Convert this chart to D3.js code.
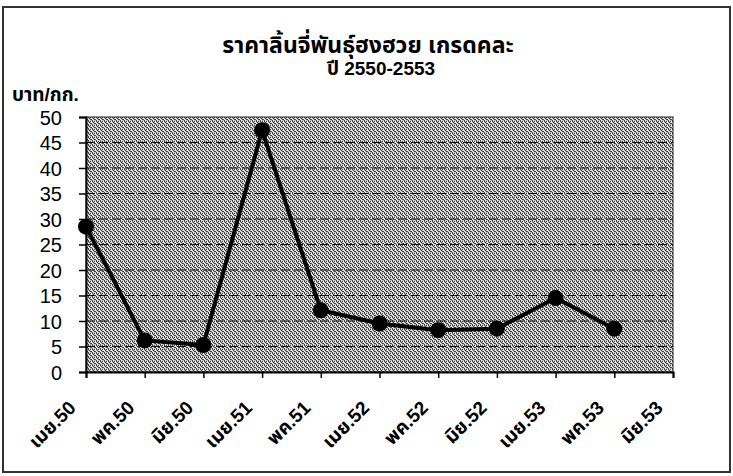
<!DOCTYPE html>
<html>
<head>
<meta charset="utf-8">
<script src="https://cdn.jsdelivr.net/npm/d3@7/dist/d3.min.js"></script>
<style>
  html, body { margin: 0; padding: 0; background: #fff; }
  svg { display: block; }
  text { font-family: "Liberation Sans", Arial, "Noto Sans Thai", "Noto Sans", sans-serif; }
</style>
</head>
<body>
<svg id="chart" width="733" height="476"></svg>
<script>
const titleLines = ["ราคาลิ้นจี่พันธุ์ฮงฮวย เกรดคละ", "ปี 2550-2553"];
const yAxisTitle = "บาท/กก.";
const categories = ["เมย.50", "พค.50", "มิย.50", "เมย.51", "พค.51", "เมย.52", "พค.52", "มิย.52", "เมย.53", "พค.53", "มิย.53"];
const prices = [28.5, 6.2, 5.3, 47.4, 12.1, 9.5, 8.2, 8.5, 14.5, 8.5, null];
const yTicks = [0, 5, 10, 15, 20, 25, 30, 35, 40, 45, 50];

const svg = d3.select("#chart");
const plot = { left: 86, right: 673, top: 117, bottom: 372 };

// outer frame
svg.append("rect").attr("x", 3).attr("y", 7).attr("width", 727).attr("height", 465)
  .attr("fill", "#fff").attr("stroke", "#333").attr("stroke-width", 2);

// stipple pattern
const defs = svg.append("defs");
const pat = defs.append("pattern").attr("id", "stip").attr("patternUnits", "userSpaceOnUse")
  .attr("width", 4).attr("height", 4);
pat.append("rect").attr("width", 4).attr("height", 4).attr("fill", "#bdbdbd");
[[0,0],[2,1],[1,2],[3,3],[2,3],[0,1]].forEach(([px,py]) =>
  pat.append("rect").attr("x", px).attr("y", py).attr("width", 1).attr("height", 1).attr("fill", "#444"));
[[1,0],[3,1],[0,3],[3,2]].forEach(([px,py]) =>
  pat.append("rect").attr("x", px).attr("y", py).attr("width", 1).attr("height", 1).attr("fill", "#f4f4f4"));

const x = d3.scalePoint().domain(categories).range([plot.left, plot.right]).padding(0);
const y = d3.scaleLinear().domain([0, 50]).range([plot.bottom, plot.top]);

svg.append("rect").attr("x", plot.left).attr("y", plot.top)
  .attr("width", plot.right - plot.left).attr("height", plot.bottom - plot.top)
  .attr("fill", "url(#stip)").attr("stroke", "#222").attr("stroke-width", 1);

// gridlines
svg.append("g").selectAll("line").data(yTicks.filter(t => t > 0 && t < 50)).join("line")
  .attr("x1", plot.left).attr("x2", plot.right)
  .attr("y1", d => y(d)).attr("y2", d => y(d))
  .attr("stroke", "#111").attr("stroke-width", 1.2).attr("stroke-dasharray", "9,4");

// y axis
const yAxis = d3.axisLeft(y).tickValues(yTicks).tickSize(7).tickPadding(17);
const gy = svg.append("g").attr("transform", `translate(${plot.left},0)`).call(yAxis);
gy.select(".domain").attr("stroke", "#000").attr("stroke-width", 2);
gy.selectAll(".tick line").attr("stroke", "#000").attr("stroke-width", 1.5);
gy.selectAll(".tick text").attr("font-size", 20).attr("fill", "#000")
  .attr("font-family", "'Liberation Sans', Arial, sans-serif").attr("dy", "0.36em");

// x axis
const xAxis = d3.axisBottom(x).tickSize(6).tickFormat("");
const gx = svg.append("g").attr("transform", `translate(0,${plot.bottom})`).call(xAxis);
gx.select(".domain").attr("stroke", "#000").attr("stroke-width", 2);
gx.selectAll(".tick line").attr("stroke", "#000").attr("stroke-width", 1.5);

svg.append("g").selectAll("text").data(categories).join("text")
  .attr("transform", d => `translate(${x(d) - 9},${plot.bottom + 37}) rotate(-45)`)
  .attr("text-anchor", "end")
  .attr("font-size", 19).attr("font-weight", "bold").attr("fill", "#000")
  .text(d => d);

// line
const pts = categories.map((c, i) => ({ c, v: prices[i] })).filter(d => d.v != null);
const line = d3.line().x(d => x(d.c)).y(d => y(d.v));
svg.append("path").datum(pts).attr("d", line)
  .attr("fill", "none").attr("stroke", "#000").attr("stroke-width", 4).attr("stroke-linejoin", "round");
svg.append("g").selectAll("circle").data(pts).join("circle")
  .attr("cx", d => x(d.c)).attr("cy", d => y(d.v)).attr("r", 8).attr("fill", "#000");

// titles
svg.append("text").attr("x", 368).attr("y", 53).attr("text-anchor", "middle")
  .attr("font-size", 23).attr("font-weight", "bold").text(titleLines[0]);
svg.append("text").attr("x", 381).attr("y", 75).attr("text-anchor", "middle")
  .attr("font-size", 19).attr("font-weight", "bold").text(titleLines[1]);
svg.append("text").attr("x", 12).attr("y", 101)
  .attr("font-size", 19).attr("font-weight", "bold").text(yAxisTitle);
</script>
</body>
</html>
